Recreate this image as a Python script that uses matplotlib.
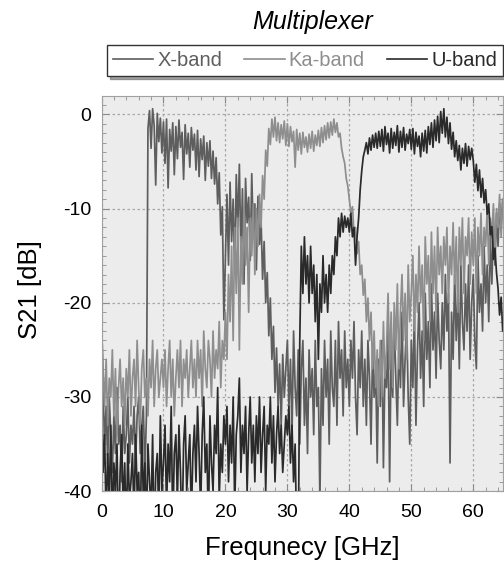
"""
Multiplexer S21 response, three channel filters
"""

import numpy as np
import matplotlib
matplotlib.use("Agg")
import matplotlib.pyplot as plt
from matplotlib.ticker import MultipleLocator

# frequency grid of the measurement [GHz]
f_start, f_step, n_pts = 0.0, 0.25, 261
freq = f_start + f_step * np.arange(n_pts)

# S21 [dB], one row per 5 GHz
xband = [
    -21, -29, -35, -31, -37, -30, -34, -38, -32, -36, -29, -35, -33, -39, -31, -36, -34, -30, -37, -33,  # 0
    -35, -31, -37, -32, -30, -36, -33, -31, -38, -32, -1.5, 0.4, -3.6, 0.6, -1.2, -7.5, 0.1, -2.9, -0.4, -4.1,  # 5
    -0.8, -5.2, -0.5, -7.8, -1.6, -3.9, -0.9, -6.4, -1.3, -4.7, -0.6, -3.5, -1.9, -6.9, -1.1, -4.2, -2.0, -5.6, -1.4, -3.8,  # 10
    -2.1, -5.9, -1.7, -6.6, -2.6, -4.8, -2.3, -7.0, -3.0, -5.5, -2.8, -6.8, -3.9, -7.4, -4.6, -9.5, -6.2, -12.8, -9.8, -21.8,  # 15
    -15, -8.5, -16, -7.2, -13.5, -9, -17, -6.4, -12, -5.3, -14.8, -7.9, -18, -6.8, -11.5, -8.8, -15.5, -6.3, -13, -9.5,  # 20
    -16.5, -8.7, -13.8, -11.2, -17.5, -13.5, -20, -16.8, -23.5, -19.5, -26, -22.5, -29.5, -24.8, -31, -26.5, -33, -25.5, -30, -27,  # 25
    -24, -31, -26, -34, -23, -29, -32, -25, -35, -27, -24, -33, -28, -36, -25, -30, -27, -34, -24, -31,  # 30
    -29, -41, -27, -33, -24, -30, -26, -35, -23, -29, -31, -24, -33, -22, -28, -25, -32, -23, -29, -26,  # 35
    -31, -24, -28, -22, -30, -34, -25, -29, -23, -31, -26, -33, -24, -28, -35, -25, -30, -27, -37, -26,  # 40
    -31, -24, -37.5, -27, -29, -23, -39, -25, -30, -22, -28, -33, -24, -29, -21, -31, -26, -22, -30, -35,  # 45
    -24, -29, -21, -33, -25, -20, -28, -23, -31, -19, -26, -22, -29, -18, -25, -21, -28, -19, -24, -27,  # 50
    -20, -25, -17, -23, -19, -37, -21, -26, -17, -24, -19, -27, -16, -22, -25, -18, -23, -16, -26, -20,  # 55
    -17, -24, -27, -15, -21, -18, -23, -14, -20, -16, -22, -13, -18, -12, -16, -10.5, -14, -9.5, -12, -9,  # 60
    -11,
]
kaband = [
    -22, -27, -31, -26, -33, -28, -30, -25, -32, -27, -34, -29, -26, -31, -28, -33, -27, -30, -25, -32,  # 0
    -28, -26, -31, -24, -29, -33, -27, -25, -30, -28, -32, -26, -29, -24, -31, -27, -25, -30, -28, -26,  # 5
    -29, -25, -31, -27, -24, -30, -26, -32, -28, -25, -29, -24, -31, -26, -28, -25, -30, -27, -24, -29,  # 10
    -26, -30, -24, -28, -25, -31, -23, -27, -29, -24, -26, -30, -23, -28, -25, -27, -22, -29, -24, -26,  # 15
    -21, -26, -17, -22, -14, -24, -12, -19, -11, -25, -13, -18, -10, -16, -12, -21, -11, -15, -9.5, -17,  # 20
    -10, -14, -8.5, -12, -6.5, -9, -3.8, -5.5, -1.5, -3.2, -0.5, -2.4, -0.3, -2.8, -0.9, -3.0, -1.1, -2.6, -0.7, -3.3,  # 25
    -1.0, -3.4, -1.3, -2.9, -1.8, -5.6, -1.6, -3.8, -2.0, -4.2, -1.9, -3.5, -2.4, -4.0, -2.1, -3.6, -1.8, -3.9, -2.2, -3.3,  # 30
    -1.7, -3.4, -1.4, -3.0, -1.2, -2.7, -0.9, -2.5, -0.8, -2.2, -0.5, -1.9, -0.9, -2.4, -2.0, -3.6, -4.5, -5.2, -6.8, -7.6,  # 35
    -9.0, -10.5, -9.8, -12.6, -12.0, -14.8, -13.5, -17.0, -16.0, -19.2, -17.5, -22, -19.5, -24, -21, -27, -23, -29, -25, -31,  # 40
    -24, -30, -22, -28, -25, -19, -27, -21, -29, -20, -25, -18, -27, -21, -17, -24, -19, -26, -16, -22,  # 45
    -19, -15, -23, -17, -21, -14, -20, -16, -24, -13, -18, -15, -22, -12.5, -19, -14, -21, -12, -17, -14,  # 50
    -19, -13, -16, -12, -20, -14, -17, -11.5, -18, -13, -21, -12, -16, -11, -19, -13, -15, -11, -18, -12.5,  # 55
    -16, -11, -19, -12, -15, -10.5, -17, -12, -14, -10, -16, -11, -13, -9.5, -15, -10, -12, -8.5, -13, -9,  # 60
    -11,
]
uband = [
    -29, -38, -34, -43, -36, -41, -33, -44, -37, -40, -35, -46, -38, -34, -42, -37, -45, -35, -41, -39,  # 0
    -36, -43, -34, -40, -38, -45, -33, -41, -37, -44, -35, -39, -42, -34, -46, -38, -36, -43, -32, -40,  # 5
    -37, -33, -42, -35, -39, -31, -44, -36, -34, -41, -33, -38, -45, -35, -32, -40, -37, -34, -43, -36,  # 10
    -33, -39, -31, -36, -42, -34, -30, -38, -35, -44, -32, -37, -40, -33, -36, -29, -41, -35, -38, -32,  # 15
    -35, -31, -39, -33, -37, -30, -42, -34, -32, -28, -38, -33, -36, -31, -40, -34, -30, -37, -33, -39,  # 20
    -32, -36, -30, -38, -34, -31, -40, -33, -35, -30, -37, -32, -39, -34, -31, -36, -33, -38, -35, -32,  # 25
    -34, -31, -37, -33, -39, -35, -45, -48, -24, -14, -19, -13, -18, -15, -20, -14, -19, -16, -22, -17,  # 30
    -26, -18, -21, -15, -20, -17, -21, -16, -19, -15, -17, -13, -15, -11, -13, -10.5, -12.5, -10.8, -12, -11,  # 35
    -12.5, -10.5, -13, -12, -16, -13, -11, -8, -6, -4.5, -3.8, -3, -4.2, -2.5, -3.8, -2.2, -3.5, -2, -3.6, -1.8,  # 40
    -3.4, -1.6, -3.9, -1.3, -3.2, -2.0, -4.1, -1.5, -3.6, -1.9, -3.3, -1.2, -4.0, -1.8, -3.5, -1.4, -3.8, -2.1, -3.1, -1.6,  # 45
    -3.7, -1.5, -4.2, -1.9, -3.4, -2.3, -4.5, -2.0, -3.9, -1.7, -4.1, -1.3, -3.2, -0.9, -3.5, -0.6, -2.8, -0.2, -3.0, 0.3,  # 50
    -2.0, 0.6, -2.4, -0.3, -3.1, -0.9, -3.7, -1.9, -4.5, -2.8, -4.9, -3.3, -5.9, -3.6, -5.2, -3.1, -5.5, -3.4, -4.8, -3.6,  # 55
    -4.9, -7.2, -5.3, -8.1, -5.9, -8.8, -6.8, -9.4, -8.0, -10.6, -9.5, -12.8, -11.9, -15.4, -14.2, -16.8, -18.5, -21.3, -19.4, -23.0,  # 60
    -21.5,
]

labels = ["X-band", "Ka-band", "U-band"]
colors = ["#5e5e5e", "#8e8e8e", "#2a2a2a"]

plt.rcParams["font.family"] = ["Liberation Sans", "DejaVu Sans"]
plt.rcParams["axes.unicode_minus"] = False

fig = plt.figure(figsize=(5.04, 5.66), dpi=100)
ax = fig.add_axes([101.5 / 504, 1 - 491.2 / 566, 401.5 / 504, 395.2 / 566])
ax.set_facecolor("#ececec")

for ys, lab, col in zip([xband, kaband, uband], labels, colors):
    ax.plot(freq, ys, color=col, lw=1.25, label=lab)

ax.set_xlim(0, 64.8)
ax.set_ylim(-40, 1.95)
ax.xaxis.set_major_locator(MultipleLocator(10))
ax.xaxis.set_minor_locator(MultipleLocator(2))
ax.yaxis.set_major_locator(MultipleLocator(10))
ax.yaxis.set_minor_locator(MultipleLocator(1))
ax.grid(True, which="major", ls=(0, (2, 2)), color="#a8a8a8", lw=0.9)
ax.tick_params(which="both", direction="in", top=True, right=True, color="#8c8c8c")
ax.tick_params(which="major", length=5, labelsize=14)
ax.tick_params(which="minor", length=3)
ax.tick_params(axis="x", pad=9)
ax.tick_params(axis="y", pad=7.5)
for sp in ax.spines.values():
    sp.set_color("#a0a0a0")

ax.set_xlabel("Frequnecy [GHz]", fontsize=18.5)
ax.xaxis.set_label_coords(0.5, -0.113)
ax.set_ylabel("S21 [dB]", fontsize=18.5)
ax.yaxis.set_label_coords(-0.148, 0.509)

fig.text(313 / 504, 1 - 22 / 566, "Multiplexer", fontsize=18, style="italic",
         ha="center", va="center")

leg = fig.legend(loc="center", bbox_to_anchor=(305 / 504, 1 - 60.5 / 566), ncol=3,
                 fontsize=14.5, handlelength=2.0, handletextpad=0.2, columnspacing=1.1,
                 borderpad=0.3, fancybox=False, shadow=True, labelcolor="linecolor",
                 framealpha=1)
leg.get_frame().set_edgecolor("#333333")
leg.get_frame().set_linewidth(1.0)
for h in leg.get_lines():
    h.set_linewidth(1.2)

fig.savefig("out.png", dpi=100)
